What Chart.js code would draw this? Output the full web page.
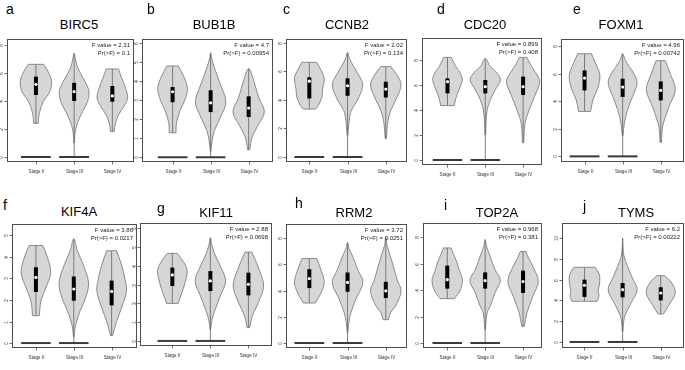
<!DOCTYPE html>
<html>
<head>
<meta charset="utf-8">
<script src="https://cdn.jsdelivr.net/npm/chart.js@4.4.0/dist/chart.umd.min.js"></script>
<style>
  html, body { margin: 0; padding: 0; background: #fff; }
  body { width: 685px; height: 370px; position: relative; overflow: hidden; font-family: "Liberation Sans", Arial, sans-serif; }
  canvas { position: absolute; }
  .letra { position: absolute; font-size: 14px; line-height: 14px; color: #000; }
  .gene { position: absolute; font-size: 13px; line-height: 13px; color: #000; transform: translateX(-50%); white-space: nowrap; }
</style>
</head>
<body>
<script>
// dados
const estagios = ['Stage II', 'Stage III', 'Stage IV'];
const genes = ['BIRC5', 'BUB1B', 'CCNB2', 'CDC20', 'FOXM1', 'KIF4A', 'KIF11', 'RRM2', 'TOP2A', 'TYMS'];
const letras = ['a', 'b', 'c', 'd', 'e', 'f', 'g', 'h', 'i', 'j'];
const valoresF = ['2.31', '4.7', '2.02', '0.899', '4.96', '3.86', '2.88', '3.72', '0.968', '6.2'];
const valoresP = ['0.1', '0.00954', '0.134', '0.408', '0.00742', '0.0217', '0.0698', '0.0251', '0.381', '0.00222'];
const ticksY = [
    [0, 2, 4, 6, 8], [0, 1, 2, 3, 4, 5, 6], [0, 2, 4, 6, 8], [0, 2, 4, 6, 8], [0, 2, 4, 6, 8],
    [0, 1, 2, 3, 4, 5], [0, 1, 2, 3, 4, 5, 6], [0, 2, 4, 6, 8], [0, 2, 4, 6, 8], [0, 2, 4, 6, 8, 10]
];
// estagios com amostras de expressao zero
const estagiosZero = ['Stage II', 'Stage III'];

// estatisticas da caixa (II, III, IV)
const minimos = [[2.4, 0, 1.81], [1.29, 0, 0.39], [3.35, 0, 1.29], [4.35, 0, 1.39], [3.27, 0, 1.02],
                 [1.27, 0, 0.34], [2.0, 0, 0.71], [3.05, 0, 1.78], [3.36, 0, 1.26], [3.91, 0, 2.69]];
const quartil1 = [[4.43, 4.0, 3.95], [2.9, 2.38, 2.12], [4.09, 4.28, 4.16], [5.33, 5.33, 5.2], [4.8, 4.32, 4.07],
                  [2.37, 1.97, 1.75], [2.93, 2.66, 2.43], [4.19, 3.91, 3.43], [4.12, 4.12, 3.79], [4.33, 4.29, 4.0]];
const medianas = [[5.19, 4.67, 4.36], [3.45, 2.86, 2.59], [5.3, 4.98, 4.75], [6.27, 5.87, 5.87], [5.7, 5.04, 4.8],
                  [3.05, 2.51, 2.4], [3.52, 3.2, 3.02], [4.92, 4.62, 3.98], [4.8, 4.72, 4.65], [5.45, 5.03, 4.71]];
const quartil3 = [[5.74, 5.3, 5.07], [3.7, 3.53, 3.21], [5.57, 5.5, 5.26], [6.53, 6.4, 6.67], [6.25, 5.65, 5.45],
                  [3.52, 3.09, 2.9], [3.91, 3.73, 3.64], [5.63, 5.38, 4.67], [5.86, 5.35, 5.48], [5.99, 5.67, 5.26]];
const maximos = [[6.62, 7.4, 6.29], [4.81, 5.5, 4.67], [6.62, 7.3, 6.32], [8.21, 8.13, 8.21], [7.47, 7.47, 6.96],
                 [4.53, 4.84, 4.29], [4.67, 5.5, 4.74], [6.45, 7.67, 8.05], [7.2, 7.83, 6.94], [7.18, 10.0, 6.38]];

// perfil de densidade de cada violino: [valor, meia largura], de baixo pra cima
const perfilBIRC5 = [
    [[2.4, 0.06], [2.8, 0.07], [3.25, 0.1], [3.95, 0.19], [4.65, 0.36], [5.4, 0.41], [6.1, 0.32], [6.62, 0.2]],
    [[1.0, 0.008], [1.57, 0.02], [1.93, 0.035], [2.52, 0.1], [3.24, 0.22], [3.95, 0.35], [4.55, 0.39], [4.9, 0.37], [5.62, 0.24], [6.33, 0.1], [6.8, 0.05], [7.4, 0]],
    [[1.81, 0.045], [2.4, 0.08], [3.0, 0.16], [3.6, 0.3], [4.19, 0.4], [4.9, 0.35], [5.62, 0.25], [6.29, 0.16]]
];
const perfilBUB1B = [
    [[1.29, 0.09], [1.8, 0.1], [2.47, 0.2], [3.0, 0.32], [3.62, 0.39], [4.23, 0.3], [4.81, 0.15]],
    [[0.3, 0.008], [0.88, 0.04], [1.41, 0.1], [2.12, 0.26], [2.91, 0.4], [3.88, 0.25], [4.76, 0.09], [5.2, 0.03], [5.5, 0]],
    [[0.39, 0.026], [1.06, 0.09], [1.59, 0.22], [2.38, 0.41], [3.17, 0.26], [4.06, 0.13], [4.67, 0]]
];
const perfilCCNB2 = [
    [[3.35, 0.16], [3.63, 0.24], [4.2, 0.33], [4.8, 0.35], [5.5, 0.39], [6.1, 0.3], [6.62, 0.19]],
    [[1.5, 0.01], [2.57, 0.045], [3.27, 0.1], [3.98, 0.26], [5.03, 0.4], [5.7, 0.3], [6.32, 0.16], [6.9, 0.05], [7.3, 0]],
    [[1.29, 0.018], [2.34, 0.045], [3.27, 0.13], [3.98, 0.26], [5.03, 0.4], [5.7, 0.3], [6.32, 0.13]]
];
const perfilCDC20 = [
    [[4.35, 0.18], [4.93, 0.22], [5.6, 0.3], [6.4, 0.39], [7.0, 0.33], [7.47, 0.22], [8.21, 0.1]],
    [[2.0, 0.01], [3.0, 0.02], [4.0, 0.05], [4.8, 0.13], [5.6, 0.26], [6.4, 0.4], [7.0, 0.3], [7.47, 0.13], [8.13, 0]],
    [[1.39, 0.018], [2.93, 0.05], [4.0, 0.16], [5.07, 0.3], [6.27, 0.44], [7.0, 0.33], [7.6, 0.2], [8.21, 0.1]]
];
const perfilFOXM1 = [
    [[3.27, 0.16], [4.12, 0.22], [4.97, 0.35], [5.94, 0.4], [6.7, 0.3], [7.47, 0.18]],
    [[1.5, 0.01], [2.42, 0.045], [3.39, 0.13], [4.36, 0.26], [5.33, 0.38], [6.0, 0.3], [6.55, 0.17], [7.0, 0.07], [7.47, 0]],
    [[1.02, 0.018], [2.0, 0.04], [2.42, 0.07], [3.64, 0.22], [4.85, 0.38], [5.94, 0.26], [6.96, 0.12]]
];
const perfilKIF4A = [
    [[1.27, 0.09], [1.94, 0.13], [2.56, 0.26], [3.26, 0.39], [3.95, 0.31], [4.53, 0.18]],
    [[0.3, 0.01], [0.54, 0.02], [0.85, 0.05], [1.47, 0.16], [2.09, 0.31], [2.79, 0.39], [3.64, 0.25], [4.26, 0.1], [4.84, 0]],
    [[0.34, 0.026], [1.0, 0.13], [1.63, 0.26], [2.4, 0.39], [3.0, 0.35], [3.64, 0.26], [4.29, 0.13]]
];
const perfilKIF11 = [
    [[2.0, 0.15], [2.4, 0.22], [2.93, 0.31], [3.73, 0.39], [4.2, 0.3], [4.67, 0.13]],
    [[0.6, 0.008], [1.15, 0.045], [1.69, 0.13], [2.4, 0.26], [3.2, 0.4], [4.0, 0.26], [4.7, 0.1], [5.2, 0.03], [5.5, 0]],
    [[0.71, 0.035], [1.33, 0.1], [2.04, 0.26], [2.93, 0.4], [3.82, 0.28], [4.74, 0.09]]
];
const perfilRRM2 = [
    [[3.05, 0.16], [3.35, 0.22], [3.86, 0.31], [4.62, 0.39], [5.63, 0.3], [6.45, 0.19]],
    [[0.8, 0.008], [1.57, 0.035], [2.34, 0.09], [3.35, 0.22], [4.62, 0.4], [5.63, 0.26], [6.65, 0.13], [7.2, 0.04], [7.67, 0]],
    [[1.78, 0.07], [2.34, 0.13], [2.84, 0.26], [3.98, 0.4], [4.8, 0.3], [5.63, 0.22], [6.9, 0.09], [7.5, 0.03], [8.05, 0]]
];
const perfilTOP2A = [
    [[3.36, 0.19], [4.04, 0.35], [4.8, 0.4], [5.4, 0.33], [6.06, 0.26], [6.7, 0.17], [7.2, 0.1]],
    [[1.0, 0.008], [2.27, 0.05], [2.78, 0.13], [3.79, 0.26], [4.75, 0.4], [5.56, 0.26], [6.57, 0.13], [7.3, 0.04], [7.83, 0]],
    [[1.26, 0.035], [2.27, 0.1], [3.54, 0.26], [4.67, 0.4], [5.81, 0.26], [6.4, 0.15], [6.94, 0.07]]
];
const perfilTYMS = [
    [[3.91, 0.33], [4.4, 0.38], [4.87, 0.36], [5.5, 0.39], [6.31, 0.4], [6.8, 0.35], [7.18, 0.28]],
    [[1.0, 0.008], [2.15, 0.035], [2.79, 0.09], [3.75, 0.22], [5.03, 0.38], [6.2, 0.25], [7.28, 0.13], [8.24, 0.035], [9.2, 0.01], [10.0, 0]],
    [[2.69, 0.07], [3.59, 0.22], [4.71, 0.38], [5.67, 0.29], [6.38, 0.1]]
];
const perfis = [perfilBIRC5, perfilBUB1B, perfilCCNB2, perfilCDC20, perfilFOXM1,
                perfilKIF4A, perfilKIF11, perfilRRM2, perfilTOP2A, perfilTYMS];

// posicao de cada painel na figura (caixa do grafico) e limites dos eixos
const paineis = [
    { L: 7,   R: 134, T: 39,  B: 162, xMin: 0.243, xMax: 3.567, yMin: -0.357, yMax: 8.43 },
    { L: 142, R: 273, T: 39,  B: 162, xMin: 0.195, xMax: 3.64,  yMin: -0.25,  yMax: 6.23 },
    { L: 286, R: 407, T: 39,  B: 162, xMin: 0.39,  xMax: 3.555, yMin: -0.35,  yMax: 8.25 },
    { L: 422, R: 542, T: 38,  B: 165, xMin: 0.326, xMax: 3.5,   yMin: -0.4,   yMax: 9.76 },
    { L: 561, R: 684, T: 39,  B: 162, xMin: 0.382, xMax: 3.61,  yMin: -0.41,  yMax: 8.54 },
    { L: 12,  R: 137, T: 224, B: 348, xMin: 0.368, xMax: 3.67,  yMin: -0.23,  yMax: 5.53 },
    { L: 140, R: 272, T: 223, B: 346, xMin: 0.15,  xMax: 3.62,  yMin: -0.27,  yMax: 6.29 },
    { L: 286, R: 407, T: 224, B: 348, xMin: 0.39,  xMax: 3.555, yMin: -0.38,  yMax: 9.08 },
    { L: 423, R: 542, T: 223, B: 348, xMin: 0.36,  xMax: 3.5,   yMin: -0.38,  yMax: 9.09 },
    { L: 562, R: 684, T: 223, B: 348, xMin: 0.41,  xMax: 3.61,  yMin: -0.58,  yMax: 11.44 }
];
const posLetras = [[6, 2], [147, 2], [283, 2], [437, 2], [573, 2], [3, 198], [157, 201], [295, 196], [444, 198], [583, 199]];
const posTitulos = [[79, 18], [214, 18], [347, 18], [485, 18], [621, 18],
                    [79, 205], [216, 206], [354, 206], [497, 206], [636, 206]];

const FONTE = '"Liberation Sans", Arial, sans-serif';
const MEIA_LARGURA_ZERO = 0.39;
const PAD = { left: 12, top: 4, right: 4, bottom: 16 };

// contorno fechado do violino: lado direito subindo, lado esquerdo descendo
function contornoViolino(perfil, centro) {
    const n = perfil.length;
    const dir = perfil.map(p => ({ x: centro + p[1], y: p[0] }));
    const esq = perfil.slice().reverse().map(p => ({ x: centro - p[1], y: p[0] }));
    const wBase = perfil[0][1];
    const wTopo = perfil[n - 1][1];
    let pontos = [];
    if (wBase > 0) pontos.push(dir[0]);
    pontos = pontos.concat(dir);
    if (wTopo > 0) {
        pontos.push(dir[n - 1]);
        pontos.push(esq[0]);
    } else {
        esq.shift();
    }
    if (wBase <= 0) esq.pop();
    pontos = pontos.concat(esq);
    if (wBase > 0) {
        pontos.push(esq[esq.length - 1]);
        pontos.push(dir[0]);
    }
    return pontos;
}

const pluginMoldura = {
    id: 'moldura',
    afterDraw(chart, args, opts) {
        const ctx = chart.ctx;
        const ca = chart.chartArea;
        const sx = chart.scales.x;
        const sy = chart.scales.y;
        ctx.save();
        ctx.strokeStyle = '#4d4d4d';
        ctx.lineWidth = 1;
        ctx.strokeRect(Math.round(ca.left) + 0.5, Math.round(ca.top) + 0.5,
                       Math.round(ca.width) - 1, Math.round(ca.height) - 1);

        // eixo y
        ctx.fillStyle = '#333';
        ctx.font = '4.6px ' + FONTE;
        ctx.lineWidth = 0.8;
        opts.ticks.forEach(v => {
            const py = Math.round(sy.getPixelForValue(v)) + 0.5;
            ctx.beginPath();
            ctx.moveTo(ca.left - 2.5, py);
            ctx.lineTo(ca.left, py);
            ctx.stroke();
            ctx.save();
            ctx.translate(ca.left - 5.5, py);
            ctx.rotate(-Math.PI / 2);
            ctx.textAlign = 'center';
            ctx.textBaseline = 'middle';
            ctx.fillText(String(v), 0, 0);
            ctx.restore();
        });

        // eixo x
        ctx.textAlign = 'center';
        ctx.textBaseline = 'middle';
        estagios.forEach((nome, k) => {
            const px = Math.round(sx.getPixelForValue(k + 1)) + 0.5;
            ctx.beginPath();
            ctx.moveTo(px, ca.bottom);
            ctx.lineTo(px, ca.bottom + 2.5);
            ctx.stroke();
            ctx.fillText(nome, px, ca.bottom + 9.5);
        });

        // teste F
        ctx.fillStyle = '#222';
        ctx.font = '6px ' + FONTE;
        ctx.textAlign = 'right';
        ctx.fillText('F value = ' + opts.f, ca.right - 4, ca.top + 6.5);
        ctx.fillText('Pr(>F) = ' + opts.p, ca.right - 4, ca.top + 14);
        ctx.restore();
    }
};

function plotarPainel(i) {
    const pos = paineis[i];
    const canvas = document.createElement('canvas');
    const largura = pos.R - pos.L + PAD.left + PAD.right;
    const altura = pos.B - pos.T + PAD.top + PAD.bottom;
    canvas.width = largura;
    canvas.height = altura;
    canvas.style.left = (pos.L - PAD.left) + 'px';
    canvas.style.top = (pos.T - PAD.top) + 'px';
    canvas.style.width = largura + 'px';
    canvas.style.height = altura + 'px';
    document.body.appendChild(canvas);

    let datasets = [];
    estagios.forEach((nome, k) => {
        const c = k + 1;
        datasets.push({
            data: contornoViolino(perfis[i][k], c),
            borderColor: '#808080',
            borderWidth: 0.9,
            backgroundColor: '#d6d6d6',
            fill: 'shape',
            tension: 0.35,
            pointRadius: 0,
            order: 5
        });
        datasets.push({
            data: [{ x: c, y: minimos[i][k] }, { x: c, y: maximos[i][k] }],
            borderColor: '#6e6e6e',
            borderWidth: 0.9,
            pointRadius: 0,
            fill: false,
            order: 4
        });
        datasets.push({
            data: [{ x: c, y: quartil1[i][k] }, { x: c, y: quartil3[i][k] }],
            borderColor: '#000',
            borderWidth: 4,
            borderCapStyle: 'butt',
            pointRadius: 0,
            fill: false,
            order: 2
        });
        if (estagiosZero.includes(nome)) {
            datasets.push({
                data: [{ x: c - MEIA_LARGURA_ZERO, y: 0 }, { x: c + MEIA_LARGURA_ZERO, y: 0 }],
                borderColor: '#3a3a3a',
                borderWidth: 2,
                borderCapStyle: 'butt',
                pointRadius: 0,
                fill: false,
                order: 3
            });
        }
    });
    datasets.push({
        data: medianas[i].map((m, k) => ({ x: k + 1, y: m })),
        showLine: false,
        pointStyle: 'circle',
        pointRadius: 1.6,
        pointBorderWidth: 0,
        pointBackgroundColor: '#fff',
        order: 1
    });

    new Chart(canvas, {
        type: 'line',
        data: { datasets: datasets },
        options: {
            responsive: false,
            animation: false,
            devicePixelRatio: 1,
            layout: { padding: PAD },
            scales: {
                x: { type: 'linear', min: pos.xMin, max: pos.xMax, display: false },
                y: { type: 'linear', min: pos.yMin, max: pos.yMax, display: false }
            },
            plugins: {
                legend: { display: false },
                tooltip: { enabled: false },
                moldura: { ticks: ticksY[i], f: valoresF[i], p: valoresP[i] }
            }
        },
        plugins: [pluginMoldura]
    });

    const letra = document.createElement('div');
    letra.className = 'letra';
    letra.textContent = letras[i];
    letra.style.left = posLetras[i][0] + 'px';
    letra.style.top = posLetras[i][1] + 'px';
    document.body.appendChild(letra);

    const titulo = document.createElement('div');
    titulo.className = 'gene';
    titulo.textContent = genes[i];
    titulo.style.left = posTitulos[i][0] + 'px';
    titulo.style.top = posTitulos[i][1] + 'px';
    document.body.appendChild(titulo);
}

for (let i = 0; i < genes.length; i++) {
    plotarPainel(i);
}
</script>
</body>
</html>
